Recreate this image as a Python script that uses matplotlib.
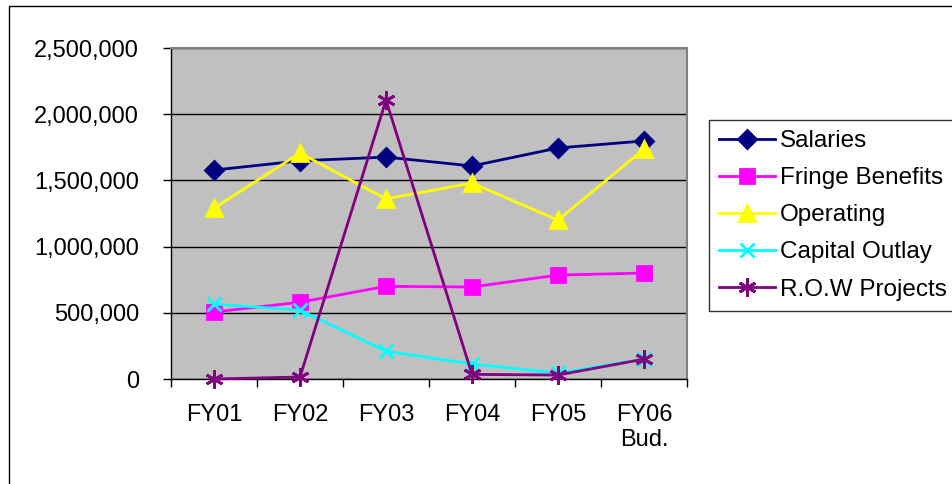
import numpy as np
import matplotlib.pyplot as plt
from matplotlib.patches import Rectangle
from matplotlib.ticker import FuncFormatter

plt.rcParams['font.family'] = ['Liberation Sans', 'DejaVu Sans']

years = ['FY01', 'FY02', 'FY03', 'FY04', 'FY05', 'FY06\nBud.']
salaries = [1578000, 1648000, 1676000, 1609000, 1745000, 1798000]
fringe = [506000, 580000, 700000, 695000, 785000, 800000]
operating = [1290000, 1707000, 1360000, 1480000, 1200000, 1737000]
capital = [566000, 520000, 210000, 113000, 45000, 150000]
row_projects = [0, 15000, 2107000, 35000, 30000, 150000]

series = [
    ('Salaries', salaries, '#000080', 'D', 9),
    ('Fringe Benefits', fringe, '#FF00FF', 's', 10),
    ('Operating', operating, '#FFFF00', '^', 11),
    ('Capital Outlay', capital, '#00FFFF', 'x', 10),
    ('R.O.W Projects', row_projects, '#800080', (6, 2, 0), 13),
]

fig = plt.figure(figsize=(9.52, 4.84), dpi=100)
ax = fig.add_axes([171/952, 1 - 379/484, (687 - 171)/952, (379 - 48)/484])
ax.set_facecolor('#C0C0C0')

x = np.arange(len(years))
for name, vals, col, mk, ms in series:
    ax.plot(x, vals, color=col, lw=2, marker=mk, markersize=ms,
            markerfacecolor=col, markeredgecolor=col, markeredgewidth=2,
            label=name, clip_on=False, zorder=3)

ax.set_xlim(-0.5, 5.5)
ax.set_ylim(0, 2500000)
ax.set_yticks(np.arange(0, 2500001, 500000))
ax.yaxis.set_major_formatter(FuncFormatter(lambda v, p: f'{int(v):,}'))
ax.yaxis.grid(True, color='black', lw=1)
ax.set_axisbelow(True)

ax.set_xticks(x)
ax.set_xticklabels(years)
ax.set_xticks(np.arange(-0.5, 6, 1), minor=True)
ax.tick_params(axis='x', which='major', length=0, pad=18, labelsize=17)
ax.tick_params(axis='x', which='minor', length=6, width=1, direction='out')
ax.tick_params(axis='y', length=6, width=1, direction='out', pad=17, labelsize=17)

for s in ['top', 'right']:
    ax.spines[s].set_color('#808080')
    ax.spines[s].set_linewidth(1.5)
for s in ['left', 'bottom']:
    ax.spines[s].set_color('black')
    ax.spines[s].set_linewidth(1)

leg = fig.legend(loc='upper left', bbox_to_anchor=(709/952, 1 - 120/484),
                 fontsize=17.5, frameon=True, fancybox=False, handlelength=2.3,
                 handletextpad=0.2, labelspacing=0.62, borderpad=0.42,
                 borderaxespad=0)
leg.get_frame().set_edgecolor('black')
leg.get_frame().set_linewidth(1)

fig.add_artist(Rectangle((9/952, -0.05), 1.0, 1 - 6/484 + 0.05, fill=False,
                         edgecolor='black', lw=1, transform=fig.transFigure))

fig.savefig('out.png', dpi=100)
